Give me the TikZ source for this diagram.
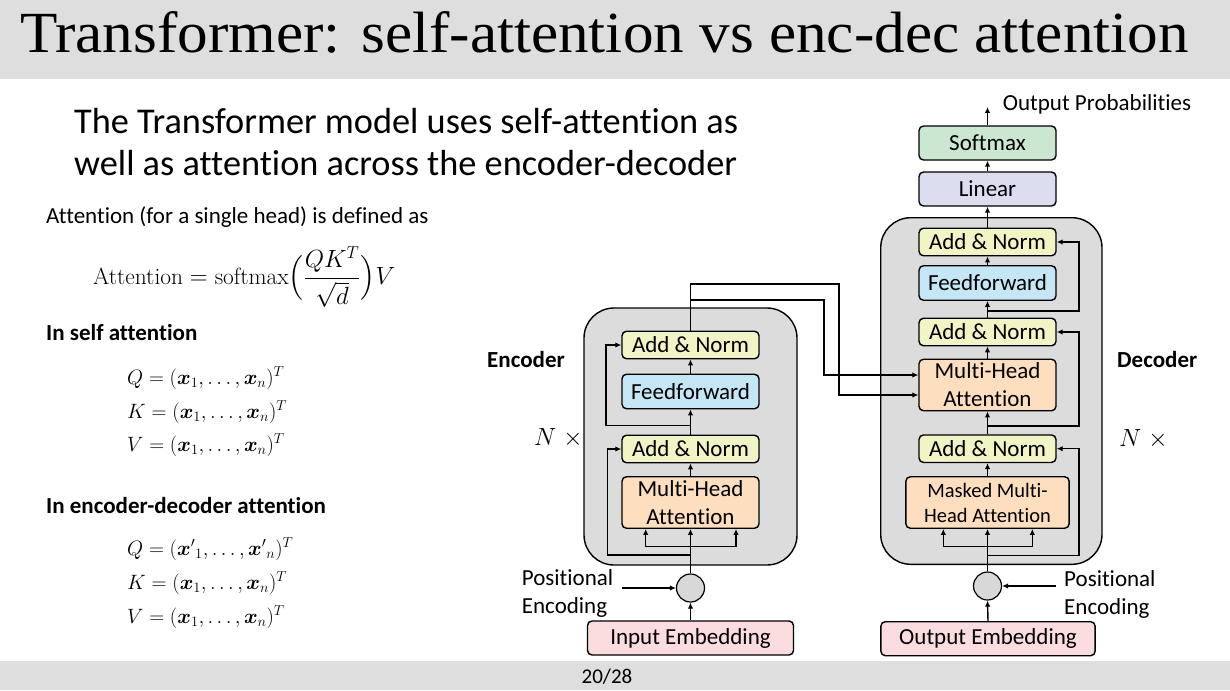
\documentclass[tikz,border=0pt]{standalone}
\usepackage{fontspec}
\usepackage{amsmath}
\usepackage{bm}
\usetikzlibrary{arrows.meta}
\newfontfamily\carl[Ligatures=NoCommon]{Carlito}
\newfontfamily\ttl{Liberation Serif}
\definecolor{bandc}{HTML}{DEDEDE}
\definecolor{boxc}{HTML}{DCDCDC}
\definecolor{circc}{HTML}{D8D8D8}
\definecolor{anc}{HTML}{F2F4C6}
\definecolor{ffc}{HTML}{C4E6F5}
\definecolor{mhac}{HTML}{FDDFBF}
\definecolor{linc}{HTML}{DCDEF0}
\definecolor{softc}{HTML}{CBE6D1}
\definecolor{embc}{HTML}{FBDDE0}
\begin{document}
\begin{tikzpicture}[x=1pt,y=-1pt,
  blk/.style={draw=black, line width=1.4pt, rounded corners=4.5pt, inner sep=0pt, align=center,
    font=\carl\fontsize{23}{28}\selectfont, minimum width=137pt},
  an/.style={blk, fill=anc, minimum height=27.5pt},
  ff/.style={blk, fill=ffc, minimum height=34.5pt},
  mha/.style={blk, fill=mhac, minimum height=51.5pt},
  embbox/.style={blk, fill=embc, minimum height=34pt},
  bigbox/.style={draw=black, line width=1.4pt, fill=boxc, rounded corners=30pt, inner sep=0pt},
  circ/.style={circle, draw=black, line width=1.2pt, fill=circc, minimum size=28pt, inner sep=0pt},
  arr/.style={line width=1.4pt, -{Latex[length=6pt,width=5.5pt]}},
  ln/.style={line width=1.4pt},
  lbl/.style={font=\carl\fontsize{23}{28}\selectfont, inner sep=0pt, anchor=base west},
  blbl/.style={font=\carl\bfseries\fontsize{23}{28}\selectfont, inner sep=0pt, anchor=base west},
  mth/.style={font=\fontsize{21}{26}\selectfont, inner sep=0pt, anchor=base west},
]
\useasboundingbox (0,0) rectangle (1230,690);
% bands
\fill[bandc] (0,0) rectangle (1230,79);
\fill[bandc] (0,661) rectangle (1230,690);
\node[inner sep=0pt, anchor=base west] (title) at (20,53)
  {\resizebox{1168pt}{41pt}{\ttl Transformer: self-attention vs enc-dec attention}};
\node[font=\carl\fontsize{21}{24}\selectfont, inner sep=0pt] (page) at (607,677) {20/28};

% left text
\node[lbl, font=\carl\fontsize{36.3}{42}\selectfont] (sub1) at (74,133) {The Transformer model uses self-attention as};
\node[lbl, font=\carl\fontsize{36.3}{42}\selectfont] (sub2) at (74,175) {well as attention across the encoder-decoder};
\node[lbl] (def) at (46,223) {Attention (for a single head) is defined as};
\node[inner sep=0pt, anchor=west, font=\fontsize{23.4}{28}\selectfont] (formula) at (93,277)
  {$\displaystyle \text{Attention} = \text{softmax}\Bigl(\frac{QK^T}{\sqrt{d}}\Bigr)V$};
\node[blbl] (selfh) at (46,340) {In self attention};
\node[mth] (sq) at (127,384) {$Q = (\bm{x}_1, \ldots, \bm{x}_n)^T$};
\node[mth] (sk) at (127,418) {$K = (\bm{x}_1, \ldots, \bm{x}_n)^T$};
\node[mth] (sv) at (127,451) {$V = (\bm{x}_1, \ldots, \bm{x}_n)^T$};
\node[blbl] (edh) at (46,513) {In encoder-decoder attention};
\node[mth] (eq) at (127,555) {$Q = ({\bm{x}'}_1, \ldots, {\bm{x}'}_n)^T$};
\node[mth] (ek) at (127,589) {$K = (\bm{x}_1, \ldots, \bm{x}_n)^T$};
\node[mth] (ev) at (127,623) {$V = (\bm{x}_1, \ldots, \bm{x}_n)^T$};

% ===== encoder =====
\node[bigbox, minimum width=213pt, minimum height=257pt] (encbox) at (690.5,436.5) {};
\node[an] (eAN2) at (690.5,345) {Add \& Norm};
\node[ff] (eFF) at (690.5,391.5) {Feedforward};
\node[an] (eAN1) at (690.5,449) {Add \& Norm};
\node[mha] (eMHA) at (690.5,502.5) {Multi-Head\\Attention};
\node[circ] (ecirc) at (690.5,588) {};
\node[embbox, minimum width=206pt] (ein) at (690.5,638) {Input Embedding};
\node[blbl] (enclbl) at (487,367) {Encoder};
\node[mth, font=\fontsize{23}{28}\selectfont] (encN) at (534,445) {$N\ \times$};
\node[lbl] (epos1) at (521.7,585) {Positional};
\node[lbl] (epos2) at (521.7,613) {Encoding};

\coordinate (epe) at (621.7,588);
\coordinate (eb1) at (645.7,546.7);
\coordinate (eb3) at (736,546.7);
\coordinate (er1) at (607.7,555);
\coordinate (er2) at (606,425.7);

\draw[arr] (ein.north) -- (ecirc.south);
\draw[arr] (epe) -- (ecirc.west);
\draw[arr] (ecirc.north) -- (eMHA.south);
\draw[ln] (eb1) -- (eb3);
\draw[arr] (eb1) -- (eb1 |- eMHA.south);
\draw[arr] (eb3) -- (eb3 |- eMHA.south);
\draw[arr] (ecirc.north |- er1) -- (er1) |- (eAN1.west);
\draw[arr] (eMHA.north) -- (eAN1.south);
\draw[arr] (eAN1.north) -- (eFF.south);
\draw[arr] (eAN1.north |- er2) -- (er2) |- (eAN2.west);
\draw[arr] (eFF.north) -- (eAN2.south);

% ===== decoder =====
\node[bigbox, minimum width=221.3pt, minimum height=346.6pt] (decbox) at (991.35,391) {};
\node[an] (dAN3) at (987.5,242) {Add \& Norm};
\node[ff] (dFF) at (987.5,283) {Feedforward};
\node[an] (dAN2) at (987.5,332) {Add \& Norm};
\node[mha] (dMHA) at (987.5,385) {Multi-Head\\Attention};
\node[an] (dAN1) at (987.5,448.7) {Add \& Norm};
\node[mha, minimum width=163.3pt, font=\carl\fontsize{20.5}{25}\selectfont] (dMMHA) at (987.5,502.5) {Masked Multi-\\Head Attention};
\node[circ] (dcirc) at (987.5,586) {};
\node[embbox, minimum width=214.3pt] (dout) at (988,638.7) {Output Embedding};
\node[blk, fill=linc, minimum height=34pt] (dLin) at (987.5,189) {Linear};
\node[blk, fill=softc, minimum height=34pt] (dSoft) at (987.5,143) {Softmax};
\node[lbl] (outp) at (1002.7,110.7) {Output Probabilities};
\node[blbl] (declbl) at (1117,367) {Decoder};
\node[mth, font=\fontsize{23}{28}\selectfont] (decN) at (1119,446) {$N\ \times$};
\node[lbl] (dpos1) at (1064,586) {Positional};
\node[lbl] (dpos2) at (1064,614) {Encoding};

\coordinate (dpe) at (1055.7,586);
\coordinate (db1) at (943.3,546.7);
\coordinate (db3) at (1032.3,546.7);
\coordinate (dr1) at (1079,555.7);
\coordinate (dr2) at (1079,426);
\coordinate (dr3) at (1079,311);
\coordinate (otop) at (987.5,107);

\draw[arr] (dout.north) -- (dcirc.south);
\draw[arr] (dpe) -- (dcirc.east);
\draw[arr] (dcirc.north) -- (dMMHA.south);
\draw[ln] (db1) -- (db3);
\draw[arr] (db1) -- (db1 |- dMMHA.south);
\draw[arr] (db3) -- (db3 |- dMMHA.south);
\draw[arr] (dcirc.north |- dr1) -- (dr1) |- (dAN1.east);
\draw[arr] (dMMHA.north) -- (dAN1.south);
\draw[arr] (dAN1.north) -- (dMHA.south);
\draw[arr] (dAN1.north |- dr2) -- (dr2) |- (dAN2.east);
\draw[arr] (dMHA.north) -- (dAN2.south);
\draw[arr] (dAN2.north) -- (dFF.south);
\draw[arr] (dAN2.north |- dr3) -- (dr3) |- (dAN3.east);
\draw[arr] (dFF.north) -- (dAN3.south);
\draw[arr] (dAN3.north) -- (dLin.south);
\draw[arr] (dLin.north) -- (dSoft.south);
\draw[arr] (dSoft.north) -- (otop);

% ===== encoder-decoder wires =====
\coordinate (w1) at (839,284);
\coordinate (w2) at (824,300);
\draw[arr] (eAN2.north) |- (w1) |- ([yshift=-10pt]dMHA.west);
\draw[arr] (eAN2.north |- w2) -- (w2) |- ([yshift=10pt]dMHA.west);
\end{tikzpicture}
\end{document}
